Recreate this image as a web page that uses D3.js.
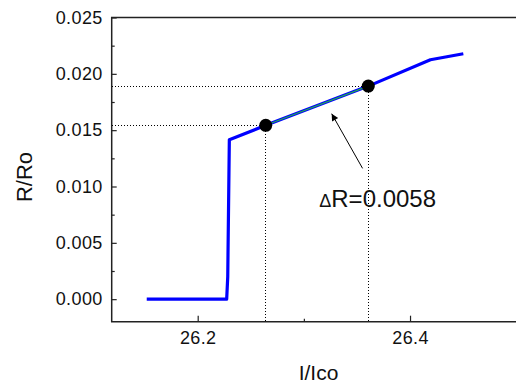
<!DOCTYPE html>
<html>
<head>
<meta charset="utf-8">
<script src="https://cdn.jsdelivr.net/npm/d3@7/dist/d3.min.js"></script>
<style>
  html, body { margin: 0; padding: 0; background: #fff; }
  svg { display: block; font-family: Arial, "Liberation Sans", sans-serif; }
</style>
</head>
<body>
<svg id="chart" width="516" height="390"></svg>
<script>
// Resistance ratio vs. normalised current
const curveX = [26.152, 26.2273, 26.2283, 26.2298, 26.2641, 26.3607, 26.4192, 26.4502];
const curveY = [0, 0, 0.00198, 0.01414, 0.01543, 0.01891, 0.02125, 0.02178];

// Two marked points and the fitted segment between them
const markX = [26.2641, 26.3607];
const markY = [0.01543, 0.01891];

// Annotation arrow (tail -> tip) and its label
const arrowX = [26.3553, 26.3262];
const arrowY = [0.01161, 0.01646];
const noteX = 26.3145, noteY = 0.00818;
const noteText = ["\u0394", "R=0.0058"];

const yTicks = [0, 0.005, 0.010, 0.015, 0.020, 0.025];
const yMinor = [0.0025, 0.0075, 0.0125, 0.0175, 0.0225];
const xTicks = [26.2, 26.4];
const xMinor = [26.3, 26.5];

const plotLeft = 111.7, plotRight = 516.2, plotTop = 17.5, plotBottom = 321.7;

const svg = d3.select("#chart");
const x = d3.scaleLinear().domain([26.119, 26.5]).range([plotLeft, plotRight]);
const y = d3.scaleLinear().domain([-0.002, 0.025]).range([plotBottom, plotTop]);

const axisColor = "#222";
const fontFam = 'Arial, "Liberation Sans", sans-serif';

// frame: left, top and bottom edges
svg.append("path")
  .attr("d", `M${plotRight + 2},${plotTop}H${plotLeft}V${plotBottom}H${plotRight + 2}`)
  .attr("fill", "none").attr("stroke", axisColor).attr("stroke-width", 1.5);

// y axis ticks (inward) and labels
const yAxis = d3.axisLeft(y).tickValues(yTicks).tickSize(-5).tickPadding(9)
  .tickFormat(d3.format(".3f"));
const gy = svg.append("g").attr("transform", `translate(${plotLeft},0)`).call(yAxis);
gy.select(".domain").remove();
gy.selectAll(".tick line").attr("stroke", axisColor).attr("stroke-width", 1.2);
gy.selectAll(".tick text").attr("font-size", 18).attr("letter-spacing", 0.4)
  .attr("fill", "#111").attr("font-family", fontFam);
const gym = svg.append("g").attr("transform", `translate(${plotLeft},0)`)
  .call(d3.axisLeft(y).tickValues(yMinor).tickSize(-3).tickFormat(""));
gym.select(".domain").remove();
gym.selectAll(".tick line").attr("stroke", axisColor).attr("stroke-width", 1.2);

// x axis ticks (inward) and labels
const xAxis = d3.axisBottom(x).tickValues(xTicks).tickSize(-6).tickPadding(10)
  .tickFormat(d3.format(".1f"));
const gx = svg.append("g").attr("transform", `translate(0,${plotBottom})`).call(xAxis);
gx.select(".domain").remove();
gx.selectAll(".tick line").attr("stroke", axisColor).attr("stroke-width", 1.2);
gx.selectAll(".tick text").attr("font-size", 18).attr("letter-spacing", 0.4)
  .attr("fill", "#111").attr("font-family", fontFam);
const gxm = svg.append("g").attr("transform", `translate(0,${plotBottom})`)
  .call(d3.axisBottom(x).tickValues(xMinor).tickSize(-3).tickFormat(""));
gxm.select(".domain").remove();
gxm.selectAll(".tick line").attr("stroke", axisColor).attr("stroke-width", 1.2);

// axis titles
svg.append("text").attr("x", 318.5).attr("y", 380).attr("text-anchor", "middle")
  .attr("font-size", 21).attr("fill", "#111").text("I/Ico");
svg.append("text").attr("transform", "translate(32,177) rotate(-90)")
  .attr("text-anchor", "middle").attr("font-size", 22).attr("fill", "#111").text("R/Ro");

// dotted guide lines from the marked points to the axes
const guides = svg.append("g").attr("stroke", "#000").attr("stroke-width", 1)
  .attr("stroke-dasharray", "1,2").attr("fill", "none")
  .attr("shape-rendering", "crispEdges");
markX.forEach((mx, i) => {
  guides.append("line").attr("x1", plotLeft).attr("x2", x(mx))
    .attr("y1", y(markY[i])).attr("y2", y(markY[i]));
  guides.append("line").attr("x1", x(mx)).attr("x2", x(mx))
    .attr("y1", y(markY[i])).attr("y2", plotBottom);
});

// main curve
const line = d3.line().x(d => x(d[0])).y(d => y(d[1]));
svg.append("path").datum(d3.zip(curveX, curveY))
  .attr("d", line).attr("fill", "none").attr("stroke", "#0000ff")
  .attr("stroke-width", 3.2).attr("stroke-linejoin", "round");

// fitted segment
svg.append("path").datum(d3.zip(markX, markY))
  .attr("d", line).attr("fill", "none").attr("stroke", "#22b04a")
  .attr("stroke-width", 1.1);

// marked points
svg.selectAll("circle.mark").data(d3.zip(markX, markY)).join("circle")
  .attr("class", "mark").attr("cx", d => x(d[0])).attr("cy", d => y(d[1]))
  .attr("r", 6.5).attr("fill", "#000");

// arrow
svg.append("defs").append("marker").attr("id", "head")
  .attr("viewBox", "0 0 10 10").attr("refX", 10).attr("refY", 5)
  .attr("markerWidth", 10).attr("markerHeight", 7).attr("markerUnits", "userSpaceOnUse")
  .attr("orient", "auto")
  .append("path").attr("d", "M0,0L10,5L0,10z").attr("fill", "#000");
svg.append("line")
  .attr("x1", x(arrowX[0])).attr("y1", y(arrowY[0]))
  .attr("x2", x(arrowX[1])).attr("y2", y(arrowY[1]))
  .attr("stroke", "#000").attr("stroke-width", 1).attr("marker-end", "url(#head)");

// annotation label
const note = svg.append("text").attr("x", x(noteX)).attr("y", y(noteY))
  .attr("fill", "#111");
note.append("tspan").attr("font-size", 18).text(noteText[0]);
note.append("tspan").attr("font-size", 24).text(noteText[1]);
</script>
</body>
</html>
